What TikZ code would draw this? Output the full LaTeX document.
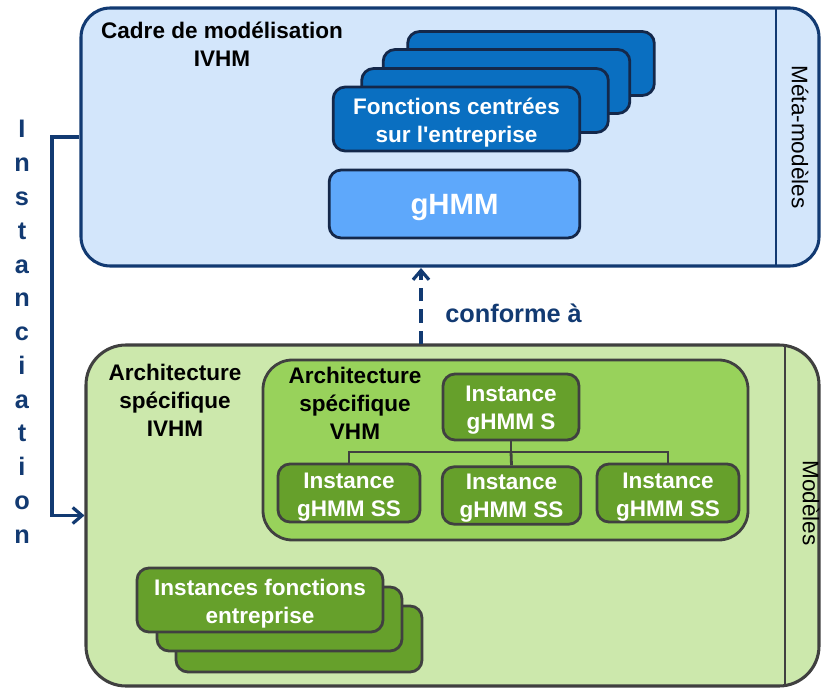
\documentclass[tikz,border=0pt]{standalone}
\usepackage{fontspec}
\setmainfont{Liberation Sans}
\usetikzlibrary{arrows.meta}
\definecolor{topfill}{HTML}{D3E6FB}
\definecolor{navy}{HTML}{123A72}
\definecolor{bluebox}{HTML}{0A6FC1}
\definecolor{blueborder}{HTML}{14284A}
\definecolor{ghmmfill}{HTML}{5EA8FB}
\definecolor{greenlight}{HTML}{CCE8AC}
\definecolor{greenmid}{HTML}{98D25B}
\definecolor{greendark}{HTML}{66A02B}
\definecolor{grayborder}{HTML}{404040}
\newcommand\fsz{\fontsize{16.9}{21}\selectfont}
\begin{document}
\begin{tikzpicture}[x=0.75pt,y=-0.75pt,
  container/.style={rectangle, rounded corners=22pt, line width=2.3pt, inner sep=0pt},
  bluestack/.style={rectangle, draw=blueborder, fill=bluebox, rounded corners=9pt, line width=2.1pt,
     minimum width=185pt, minimum height=48pt, inner sep=0pt},
  greenbox/.style={rectangle, draw=grayborder, fill=greendark, rounded corners=9pt, line width=2.1pt,
     inner sep=0pt},
  boxtext/.style={text=white, font=\fsz\bfseries, align=center, inner sep=0pt},
  blacklabel/.style={font=\fsz\bfseries, align=center, inner sep=0pt},
  sidelabel/.style={font=\fsz, rotate=-90, inner sep=0pt},
  navyarrow/.style={draw=navy, line width=2.6pt, -{Straight Barb[length=7pt,width=12pt,line width=2.4pt]}},
  letter/.style={font=\fontsize{19}{22}\selectfont\bfseries, text=navy, inner sep=0pt}
]
\useasboundingbox (0,0) rectangle (821,688);

% ---------- top container ----------
\node[container, draw=navy, fill=topfill, minimum width=553.5pt, minimum height=193.5pt] (meta) at (450,137) {};
\coordinate (mdtop) at (776,8);
\coordinate (mdbot) at (776,266);
\draw[navy, line width=2.1pt] (mdtop) -- (mdbot);
\node[sidelabel] (metalabel) at (800,137) {Méta-modèles};
\node[blacklabel, anchor=north] (cadre) at (222,22) {Cadre de modélisation\\IVHM};

\node[bluestack] (f4) at (531,63.5) {};
\node[bluestack] (f3) at (506.5,81.5) {};
\node[bluestack] (f2) at (485,100.5) {};
\node[bluestack] (f1) at (456.5,119) {};
\node[boxtext] (f1t) at ([yshift=-2.5pt]f1.center) {Fonctions centrées\\sur l\textquotesingle entreprise};
\node[rectangle, draw=blueborder, fill=ghmmfill, rounded corners=9pt, line width=2.1pt,
      minimum width=188pt, minimum height=51pt] (ghmm) at (454.5,204) {};
\node[boxtext, font=\fontsize{22}{26}\selectfont\bfseries] (ghmmt) at ([yshift=-2.8pt]ghmm.center) {gHMM};

% ---------- bottom container ----------
\node[container, rounded corners=30pt, draw=grayborder, fill=greenlight, minimum width=549.75pt, minimum height=255.75pt] (models) at (452.5,515.5) {};
\coordinate (mbtop) at (785,345);
\coordinate (mbbot) at (785,686);
\draw[grayborder, line width=2.1pt] (mbtop) -- (mbbot);
\node[sidelabel] (modlabel) at (811,503) {Modèles};
\node[blacklabel] (archi) at (175,400) {Architecture\\spécifique\\IVHM};

\node[rectangle, rounded corners=22pt, draw=grayborder, fill=greenmid, line width=2.1pt,
      minimum width=363.75pt, minimum height=135pt] (vhm) at (505.5,450) {};
\node[blacklabel] (vhmlabel) at (355,403) {Architecture\\spécifique\\VHM};

\node[greenbox, minimum width=102pt, minimum height=49.5pt] (s) at (511,407) {};
\node[boxtext] (st) at ([yshift=-2.5pt]s.center) {Instance\\gHMM S};
\node[greenbox, minimum width=106.5pt, minimum height=43.5pt] (ss1) at (349,493) {};
\node[boxtext] (ss1t) at ([yshift=-2.8pt]ss1.center) {Instance\\gHMM SS};
\node[greenbox, minimum width=104pt, minimum height=43pt] (ss2) at (511.5,495.5) {};
\node[boxtext] (ss2t) at ([yshift=-2.3pt]ss2.center) {Instance\\gHMM SS};
\node[greenbox, minimum width=106.5pt, minimum height=43.5pt] (ss3) at (668,493) {};
\node[boxtext] (ss3t) at ([yshift=-2.8pt]ss3.center) {Instance\\gHMM SS};
\coordinate (bus) at (511,452);
\draw[grayborder, line width=2.1pt] (s.south) -- (bus);
\draw[grayborder, line width=2.1pt] (ss1.north) |- (bus) -| (ss3.north);
\draw[grayborder, line width=2.1pt] (bus) -- (ss2.north);

\node[greenbox, minimum width=184.5pt, minimum height=49.5pt] (i3) at (299,639) {};
\node[greenbox, minimum width=183.75pt, minimum height=48pt] (i2) at (279.5,619) {};
\node[greenbox, minimum width=184.5pt, minimum height=48pt] (i1) at (260,600) {};
\node[boxtext] (i1t) at ([yshift=-2.5pt]i1.center) {Instances fonctions\\entreprise};

% ---------- connectors ----------
\coordinate (confbot) at (421,344);
\coordinate (conftop) at (421,268);
\draw[navyarrow, dash pattern=on 10pt off 6pt] (confbot) -- (conftop);
\node[font=\fontsize{19}{22}\selectfont\bfseries, text=navy, anchor=base west, inner sep=0pt] (conf) at (445,322) {conforme à};

\coordinate (elbow) at (52,137);
\draw[navyarrow] (meta.west) -- (elbow) |- (models.west);

\foreach \l [count=\i from 0] in {I,n,s,t,a,n,c,i,a,t,i,o,n}
  \node[letter, anchor=base] (l\i) at (22,{138+33.75*\i}) {\l};
\end{tikzpicture}
\end{document}
